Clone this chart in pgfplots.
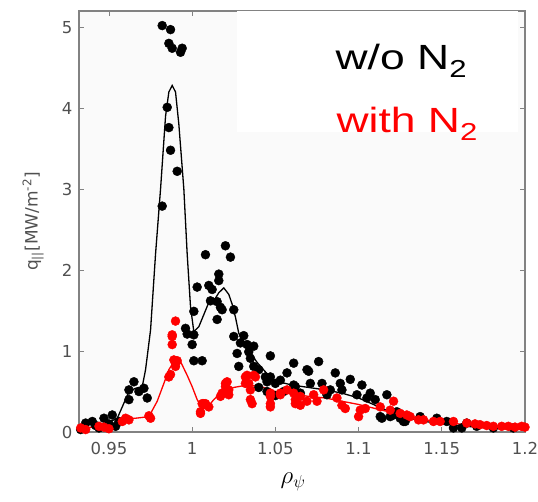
\documentclass[border=0pt]{standalone}
\usepackage{fontspec}
\setmainfont{DejaVu Sans}
\newfontfamily\arial{Liberation Sans}
\usepackage{pgfplots}
\pgfplotsset{compat=1.18}
\definecolor{tickgray}{RGB}{80,80,80}
\definecolor{spinegray}{RGB}{130,130,130}
\definecolor{dotred}{RGB}{255,0,0}
\begin{document}
\begin{tikzpicture}
\useasboundingbox (-79pt,-70pt) rectangle (459pt,432pt);
\begin{axis}[
  scale only axis,
  width=446pt, height=421pt,
  xmin=0.932, xmax=1.2, ymin=0, ymax=5.2,
  xtick={0.95,1,1.05,1.1,1.15,1.2},
  ytick={0,1,2,3,4,5},
  xticklabels={0.95,1,1.05,1.1,1.15,1.2},
  tick align=inside,
  major tick length=5pt,
  every tick/.style={spinegray, line width=0.8pt},
  axis line style={spinegray, line width=1.2pt},
  axis background/.style={fill=black!2},
  /pgf/number format/assume math mode=true,
  tick label style={font=\fontsize{16.5}{18}\selectfont, text=tickgray},
  xticklabel style={yshift=-7pt},
  yticklabel style={xshift=-3pt},
  xlabel={$\rho_{\psi}$},
  xlabel style={font=\fontsize{24}{28}\selectfont, at={(axis description cs:0.48,-0.119)}, anchor=center},
  ylabel={q\textsubscript{||}[MW/m\textsuperscript{-2}]},
  ylabel style={font=\fontsize{17}{20}\selectfont, text=tickgray, at={(axis description cs:-0.103,0.5)}, anchor=center},
  clip=false,
]
\fill[white] (axis cs:1.027,3.70) rectangle (axis cs:1.196,5.195);

% black dots (w/o N2)
\addplot[only marks, mark=*, mark size=4.5pt, mark options={fill=black, draw=black}] table {
0.933 0.03
0.936 0.11
0.940 0.13
0.942 0.08
0.944 0.05
0.947 0.17
0.950 0.10
0.952 0.21
0.954 0.07
0.956 0.13
0.962 0.40
0.962 0.52
0.965 0.62
0.968 0.50
0.971 0.54
0.973 0.42
0.982 2.79
0.985 4.01
0.986 3.76
0.987 3.48
0.991 3.22
0.982 5.02
0.987 4.97
0.986 4.80
0.988 4.74
0.994 4.74
0.993 4.69
0.996 1.28
0.997 1.21
1.000 1.08
1.001 1.20
1.001 0.88
1.006 0.88
1.001 1.49
1.003 1.79
1.008 2.19
1.010 1.81
1.012 1.76
1.011 1.62
1.015 1.61
1.016 1.95
1.016 1.87
1.017 1.54
1.018 1.51
1.015 1.39
1.020 2.30
1.023 2.16
1.025 1.51
1.025 1.18
1.027 0.97
1.028 0.81
1.029 1.10
1.031 1.19
1.033 1.08
1.034 0.99
1.035 0.91
1.037 1.06
1.037 0.81
1.040 0.77
1.040 0.55
1.044 0.68
1.045 0.62
1.045 0.50
1.047 0.94
1.047 0.68
1.050 0.60
1.050 0.45
1.053 0.64
1.055 0.50
1.057 0.73
1.061 0.85
1.061 0.58
1.062 0.56
1.065 0.48
1.069 0.77
1.070 0.75
1.071 0.60
1.076 0.87
1.078 0.60
1.081 0.46
1.083 0.52
1.086 0.73
1.089 0.60
1.090 0.52
1.095 0.65
1.099 0.46
1.102 0.58
1.105 0.42
1.107 0.48
1.110 0.40
1.113 0.19
1.114 0.17
1.117 0.46
1.119 0.19
1.121 0.21
1.123 0.25
1.125 0.17
1.127 0.13
1.128 0.13
1.137 0.19
1.147 0.17
1.153 0.13
1.157 0.05
1.162 0.05
1.165 0.11
1.171 0.07
1.181 0.05
1.193 0.05
};

% red dots (with N2)
\addplot[only marks, mark=*, mark size=4.5pt, mark options={fill=dotred, draw=dotred}] table {
0.933 0.05
0.936 0.03
0.944 0.07
0.947 0.06
0.950 0.04
0.958 0.13
0.960 0.17
0.962 0.15
0.974 0.20
0.975 0.17
0.986 0.68
0.987 0.71
0.988 1.20
0.988 1.08
0.988 1.18
0.989 0.89
0.990 1.37
0.990 0.85
0.990 0.81
0.991 0.88
1.005 0.25
1.005 0.23
1.006 0.35
1.007 0.35
1.008 0.35
1.010 0.31
1.017 0.44
1.018 0.48
1.019 0.48
1.020 0.56
1.020 0.60
1.021 0.62
1.022 0.46
1.022 0.52
1.032 0.68
1.032 0.60
1.033 0.70
1.034 0.60
1.035 0.52
1.035 0.40
1.036 0.35
1.037 0.70
1.038 0.68
1.047 0.48
1.047 0.44
1.047 0.31
1.047 0.35
1.053 0.46
1.053 0.48
1.057 0.52
1.061 0.48
1.062 0.40
1.062 0.35
1.065 0.44
1.065 0.33
1.069 0.38
1.073 0.46
1.075 0.38
1.079 0.52
1.087 0.42
1.090 0.33
1.092 0.29
1.100 0.19
1.101 0.27
1.104 0.29
1.113 0.31
1.119 0.27
1.121 0.38
1.125 0.23
1.129 0.21
1.131 0.19
1.136 0.15
1.139 0.15
1.145 0.13
1.149 0.13
1.157 0.13
1.165 0.11
1.170 0.10
1.173 0.09
1.177 0.08
1.181 0.07
1.186 0.07
1.190 0.07
1.194 0.06
1.198 0.07
1.200 0.06
};

% black line
\addplot[black, line width=1.3pt, no marks] table {
0.932 0.03
0.940 0.06
0.948 0.10
0.955 0.17
0.958 0.31
0.962 0.50
0.966 0.54
0.970 0.56
0.972 0.77
0.975 1.26
0.978 2.20
0.981 3.00
0.984 3.90
0.986 4.20
0.988 4.28
0.990 4.20
0.992 3.80
0.995 3.00
0.997 2.20
0.999 1.55
1.001 1.24
1.004 1.30
1.007 1.45
1.011 1.65
1.013 1.62
1.016 1.72
1.019 1.78
1.022 1.70
1.024 1.58
1.026 1.42
1.028 1.22
1.033 1.04
1.039 0.86
1.045 0.72
1.050 0.63
1.060 0.58
1.070 0.55
1.080 0.52
1.090 0.48
1.100 0.42
1.110 0.33
1.120 0.24
1.130 0.17
1.140 0.13
1.150 0.10
1.160 0.08
1.170 0.06
1.180 0.05
1.190 0.04
1.200 0.04
};

% red line
\addplot[dotred, line width=1.3pt, no marks] table {
0.932 0.04
0.944 0.07
0.952 0.09
0.960 0.17
0.966 0.17
0.974 0.19
0.979 0.38
0.983 0.60
0.986 0.77
0.990 0.90
0.993 0.87
0.997 0.70
1.000 0.56
1.003 0.40
1.006 0.29
1.009 0.30
1.013 0.40
1.017 0.48
1.025 0.55
1.033 0.58
1.040 0.57
1.050 0.50
1.060 0.47
1.070 0.44
1.080 0.42
1.090 0.38
1.100 0.34
1.110 0.29
1.120 0.24
1.130 0.19
1.140 0.15
1.150 0.12
1.160 0.10
1.170 0.08
1.180 0.07
1.190 0.06
1.200 0.05
};

\node[anchor=base west, inner sep=0pt, text=black] at (axis cs:1.0861,4.48)
  {\scalebox{1.27}[1]{\arial\fontsize{35}{40}\selectfont w/o N\textsubscript{2}}};
\node[anchor=base west, inner sep=0pt, text=dotred] at (axis cs:1.0867,3.70)
  {\scalebox{1.27}[1]{\arial\fontsize{35}{40}\selectfont with N\textsubscript{2}}};
\end{axis}
\end{tikzpicture}
\end{document}
